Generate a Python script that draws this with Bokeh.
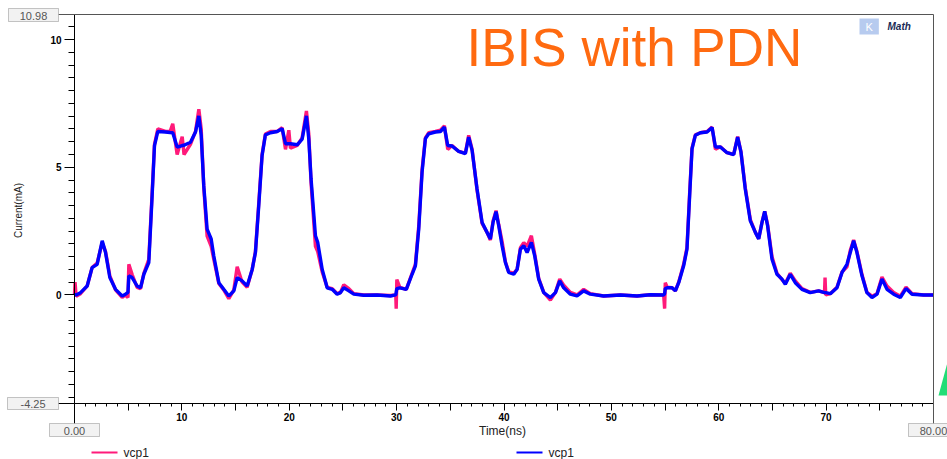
import numpy as np
from bokeh.plotting import figure
from bokeh.models import (Range1d, FixedTicker, Label, Arrow, LinearAxis, PolyAnnotation,
                          BoxAnnotation)
from bokeh.embed import file_html
from bokeh.resources import INLINE

# ---------------- data ----------------
time_ns = [0.0, 0.05, 0.15, 0.56, 1.18, 1.64, 2.11, 2.58, 2.89, 3.29, 3.82, 4.44, 4.75, 4.98, 5.06,
           5.37, 5.83, 6.15, 6.46, 6.92, 7.23, 7.45, 7.76, 8.47, 8.9, 9.15, 9.56, 10.03, 10.2, 10.8,
           11.27, 11.58, 11.8, 12.04, 12.35, 12.73, 12.97, 13.44, 13.9, 14.37, 14.84, 15.15, 15.61,
           16.08, 16.55, 16.85, 17.16, 17.47, 17.78, 18.25, 18.87, 19.34, 19.65, 19.96, 20.11, 20.74,
           21.2, 21.6, 21.82, 22.03, 22.44, 22.65, 23.07, 23.53, 24.0, 24.46, 24.77, 25.08, 25.55,
           26.01, 26.94, 28.18, 29.42, 29.92, 29.96, 30.02, 30.3, 30.9, 31.44, 31.75, 32.06, 32.37,
           32.68, 32.99, 33.61, 34.08, 34.45, 34.76, 35.16, 35.78, 36.4, 36.71, 37.03, 37.49, 37.96,
           38.42, 38.73, 38.98, 39.26, 39.51, 39.82, 40.13, 40.44, 40.91, 41.22, 41.53, 41.84, 42.15,
           42.55, 42.86, 43.23, 43.7, 44.32, 44.79, 45.19, 45.56, 46.18, 46.8, 47.42, 48.04, 49.28,
           50.84, 52.39, 53.63, 54.87, 54.96, 55.02, 55.2, 55.65, 55.96, 56.27, 56.73, 57.04, 57.29,
           57.51, 57.82, 58.29, 58.91, 59.38, 59.69, 60.15, 60.77, 61.39, 61.76, 62.07, 62.47, 62.94,
           63.41, 63.72, 64.03, 64.28, 64.55, 64.96, 65.42, 65.89, 66.2, 66.66, 67.13, 67.75, 68.52,
           69.3, 69.85, 69.9, 69.96, 70.39, 71.01, 71.48, 71.94, 72.25, 72.56, 72.87, 73.34, 73.8,
           74.27, 74.74, 75.2, 75.67, 76.29, 76.91, 77.44, 78.0, 79.08, 80.0]

vcp1_blue = [0.0, 0.02, 0.0, 0.09, 0.35, 1.07, 1.2, 2.12, 1.66, 0.68, 0.22, -0.04, 0.03, 0.1, 0.75,
             0.68, 0.35, 0.28, 0.81, 1.27, 3.89, 5.85, 6.4, 6.38, 6.36, 6.35, 5.79, 5.85, 5.86, 5.98,
             6.38, 7.01, 6.25, 4.28, 2.58, 2.19, 1.53, 0.48, 0.22, -0.04, 0.16, 0.68, 0.55,
             0.35, 1.0, 1.66, 3.5, 5.46, 6.27, 6.35, 6.4, 6.51, 5.92, 5.92, 5.92, 5.88,
             6.1, 7.01, 6.1, 4.55, 2.32, 2.06, 1.0, 0.28, 0.22, 0.03, 0.09, 0.28, 0.16,
             0.03, -0.01, 0.0, -0.04, 0.0, 0.1, 0.25, 0.28, 0.22, 0.81, 1.14, 2.58, 4.81,
             6.12, 6.31, 6.38, 6.4, 6.57, 5.85, 5.83, 5.62, 5.53, 6.18, 5.66, 4.15, 2.84,
             2.45, 2.19, 2.84, 3.26, 2.71, 1.93, 1.27, 0.88, 0.81, 1.0, 1.79, 1.93, 1.66,
             2.06, 1.53, 0.62, 0.09, -0.1, 0.09, 0.55, 0.28, 0.03, -0.04, 0.16, 0.03, -0.04,
             0.0, -0.04, 0.01, 0.0, 0.05, 0.25, 0.28, 0.28, 0.16, 0.48, 1.14, 1.79, 3.89,
             5.72, 6.25, 6.35, 6.38, 6.55, 5.79, 5.79, 5.57, 5.49, 6.18, 5.59, 4.15, 2.9,
             2.45, 2.19, 2.84, 3.27, 2.71, 1.4, 0.81, 0.62, 0.42, 0.81, 0.48, 0.22, 0.09,
             0.16, 0.09, 0.09, 0.09, 0.05, 0.28, 0.88, 1.2, 1.66, 2.12, 1.66, 0.75, 0.09,
             -0.1, 0.03, 0.62, 0.22, 0.03, -0.1, 0.25, 0.03, 0.0, 0.0]

vcp1_pink = [0.0, 0.5, -0.05, 0.05, 0.35, 1.07, 1.25, 2.05, 1.7, 0.75, 0.2, -0.1, 0.0, -0.1, 1.2,
             0.8, 0.3, 0.25, 0.85, 1.4, 4.0, 5.9, 6.5, 6.4, 6.4, 6.7, 5.5, 6.2, 5.5, 5.9,
             6.4, 7.27, 6.5, 4.2, 2.3, 1.9, 1.4, 0.45, 0.2, -0.15, 0.2, 1.1, 0.5,
             0.3, 1.0, 1.7, 3.6, 5.5, 6.3, 6.4, 6.4, 6.55, 5.7, 6.45, 5.75, 5.85,
             6.15, 7.2, 6.3, 4.4, 1.9, 1.7, 0.9, 0.3, 0.25, 0.05, 0.1, 0.4, 0.25,
             0.05, 0.0, 0.0, -0.02, 0.0, -0.54, 0.6, 0.3, 0.22, 0.85, 1.2, 2.7, 4.9,
             6.15, 6.35, 6.4, 6.45, 6.62, 5.7, 5.85, 5.62, 5.55, 6.25, 5.7, 4.1, 2.8,
             2.45, 2.15, 2.9, 3.3, 2.75, 2.1, 1.3, 0.9, 0.85, 1.0, 1.85, 2.05, 1.9,
             2.32, 1.6, 0.65, 0.1, -0.2, 0.1, 0.62, 0.38, 0.1, 0.0, 0.22, 0.05, -0.04,
             0.0, -0.04, 0.01, 0.0, -0.54, 0.48, 0.3, 0.28, 0.16, 0.5, 1.2, 1.85, 4.0,
             5.75, 6.27, 6.35, 6.4, 6.57, 5.7, 5.8, 5.57, 5.5, 6.2, 5.6, 4.2, 2.95,
             2.45, 2.2, 2.85, 3.27, 2.75, 1.5, 0.85, 0.6, 0.45, 0.85, 0.55, 0.25, 0.1,
             0.16, 0.09, 0.68, 0.0, 0.05, 0.3, 0.9, 1.1, 1.75, 2.15, 1.7, 0.8, 0.1,
             -0.05, 0.05, 0.7, 0.35, 0.1, -0.05, 0.3, 0.05, 0.0, 0.0]

series_name = "vcp1"
x_major_labels = {10: "10", 20: "20", 30: "30", 40: "40", 50: "50", 60: "60", 70: "70"}
y_major_ticks = [0, 5, 10]
x_min, x_max = 0.0, 80.0
y_min, y_max = -4.25, 10.98
title_text = "IBIS with PDN"

# ---------------- layout (canvas pixels) ----------------
W, H = 947, 459
FL, FR, FT, FB = 74, 933, 14, 403   # plot-area edges

def dx(px):
    return x_min + (px - FL) / (FR - FL) * (x_max - x_min)

def dy(py):
    return y_max - (py - FT) / (FB - FT) * (y_max - y_min)

p = figure(width=W, height=H, output_backend="svg", toolbar_location=None,
           x_range=Range1d(dx(0), dx(W)), y_range=Range1d(dy(H), dy(0)),
           x_axis_location=None, y_axis_location=None, min_border=0)
p.background_fill_color = "white"
p.border_fill_color = "white"
p.outline_line_color = None
p.xgrid.visible = False
p.ygrid.visible = False

PINK = "#FF1A7A"
BLUE = "#0000FF"
p.line(time_ns, vcp1_pink, line_color=PINK, line_width=3.4)
p.line(time_ns, vcp1_blue, line_color=BLUE, line_width=3.4)

# x axis at the bottom of the plot area
xa = LinearAxis(fixed_location=y_min, bounds=(x_min, x_max))
xa.ticker = FixedTicker(ticks=[5, 10, 15, 20, 25, 30, 35, 40, 45, 50, 55, 60, 65, 70, 75],
                        minor_ticks=list(range(0, 81)))
overrides = {5: "", 15: "", 25: "", 35: "", 45: "", 55: "", 65: "", 75: ""}
overrides.update(x_major_labels)
xa.major_label_overrides = overrides
xa.major_tick_out = 7
xa.major_tick_in = 0
xa.minor_tick_out = 3
xa.minor_tick_in = 0
xa.major_label_standoff = 2
xa.axis_line_color = "black"
xa.major_tick_line_color = "black"
xa.minor_tick_line_color = "black"
xa.major_label_text_font = "Liberation Sans"
xa.major_label_text_font_style = "bold"
xa.major_label_text_font_size = "10px"
xa.major_label_text_color = "black"
p.add_layout(xa, "below")

# y axis at the left of the plot area
ya = LinearAxis(fixed_location=x_min, bounds=(y_min, y_max))
ya.ticker = FixedTicker(ticks=y_major_ticks, minor_ticks=list(np.arange(-4.0, 11.0, 0.5)))
ya.major_tick_out = 10
ya.major_tick_in = 0
ya.minor_tick_out = 6
ya.minor_tick_in = 0
ya.major_label_standoff = 3
ya.axis_line_color = "black"
ya.major_tick_line_color = "black"
ya.minor_tick_line_color = "black"
ya.major_label_text_font = "Liberation Sans"
ya.major_label_text_font_style = "bold"
ya.major_label_text_font_size = "10px"
ya.major_label_text_color = "black"
ya.major_label_orientation = "horizontal"
p.add_layout(ya, "left")

# frame lines (top, right) and extensions to the range boxes
for (x0, y0, x1, y1, c) in [(58, FT, FR, FT, "#555555"), (FR, FT, FR, 423, "#555555"),
                            (58, FB, FL, FB, "black"), (FL, FB, FL, 423, "black")]:
    p.add_layout(Arrow(end=None, x_start=dx(x0), y_start=dy(y0), x_end=dx(x1), y_end=dy(y1),
                       line_color=c, line_width=1))

# range boxes: (text, left, right, top, bottom) in canvas pixels
for txt, l, r, t, b in [("10.98", 8, 58, 8, 21), ("-4.25", 7, 58, 397, 409),
                        ("0.00", 49, 99, 423, 436), ("80.00", 908, 958, 423, 436)]:
    p.add_layout(BoxAnnotation(left=dx(l), right=dx(r), top=dy(t), bottom=dy(b),
                               fill_color="#f2f2f2", fill_alpha=1.0,
                               line_color="#444444", line_width=1))
    p.add_layout(Label(x=dx((l + r) / 2), y=dy((t + b) / 2 + 0.5), text=txt,
                       text_font="Liberation Sans", text_font_size="11px",
                       text_color="#555555", text_align="center", text_baseline="middle"))

# axis titles
p.add_layout(Label(x=dx(502), y=dy(430), text="Time(ns)", text_font="Liberation Sans",
                   text_font_size="12px", text_color="#222222", text_align="center",
                   text_baseline="middle"))
p.add_layout(Label(x=dx(18), y=dy(210), text="Current(mA)", text_font="Liberation Sans",
                   text_font_size="10px", text_color="#222222", text_align="center",
                   text_baseline="middle", angle=np.pi / 2))

# title
p.add_layout(Label(x=dx(466), y=dy(47), text=title_text, text_font="Liberation Sans",
                   text_font_size="53px", text_color="#FF6A10", text_align="left",
                   text_baseline="middle"))

# logo
p.add_layout(Label(x=dx(859), y=dy(26), text="K", text_font="Liberation Sans",
                   text_font_size="11px", text_color="#FFFFFF", text_align="left",
                   text_baseline="middle", background_fill_color="#B7CBEF",
                   padding=dict(left=6, right=6, top=2, bottom=2)))
p.add_layout(Label(x=dx(887), y=dy(26), text="Math", text_font="Liberation Sans",
                   text_font_size="10px", text_font_style="bold italic", text_color="#1A2A55",
                   text_align="left", text_baseline="middle"))

# green mark at the right edge
p.add_layout(PolyAnnotation(xs=[dx(938), dx(947), dx(947), dx(942)],
                            ys=[dy(395), dy(362), dy(395), dy(395)],
                            fill_color="#22DD77", fill_alpha=1.0, line_color=None))

# legend
for x0, col in [(91, PINK), (516, BLUE)]:
    p.add_layout(Arrow(end=None, x_start=dx(x0), y_start=dy(452), x_end=dx(x0 + 26), y_end=dy(452),
                       line_color=col, line_width=2))
    p.add_layout(Label(x=dx(x0 + 32), y=dy(452), text=series_name, text_font="Liberation Sans",
                       text_font_size="12px", text_color="#222222", text_align="left",
                       text_baseline="middle"))

open("out.html", "w").write(file_html(p, INLINE))
